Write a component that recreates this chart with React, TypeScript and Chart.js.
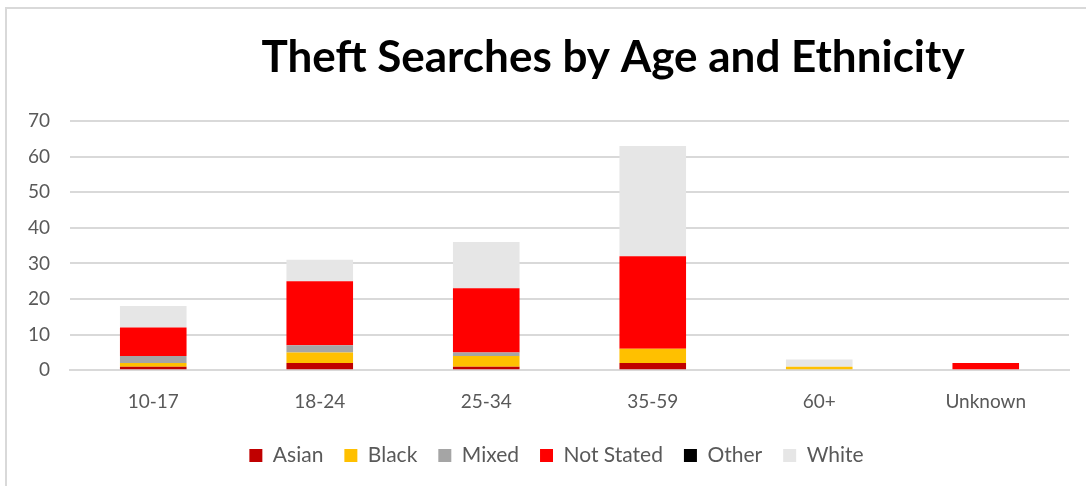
import React, { useEffect, useRef } from "react";
import { Chart, registerables } from "chart.js";

Chart.register(...registerables);

const TITLE = "Theft Searches by Age and Ethnicity";
const categories = ["10-17", "18-24", "25-34", "35-59", "60+", "Unknown"];
const asian = [1, 2, 1, 2, 0, 0];
const black = [1, 3, 3, 4, 1, 0];
const mixed = [2, 2, 1, 0, 0, 0];
const notStated = [8, 18, 18, 26, 0, 2];
const other = [0, 0, 0, 0, 0, 0];
const white = [6, 6, 13, 31, 2, 0];
const yTicks = [0, 10, 20, 30, 40, 50, 60, 70];

const FONT = "Lato, 'Noto Sans', sans-serif";

const titlePlugin = {
  id: "customTitle",
  afterLayout(chart: any) {
    if (chart.legend) {
      chart.legend.left += 18;
      chart.legend.right += 18;
    }
  },
  afterDraw(chart: any) {
    const ctx = chart.ctx;
    ctx.save();
    ctx.font = `bold 44px ${FONT}`;
    ctx.fillStyle = "#000000";
    ctx.textAlign = "center";
    ctx.textBaseline = "alphabetic";
    ctx.fillText(TITLE, 613, 72);
    ctx.restore();
  },
};

export default function App() {
  const ref = useRef<HTMLCanvasElement | null>(null);
  useEffect(() => {
    document.body.style.margin = "0";
    const mk = (label: string, data: number[], color: string) => ({
      label,
      data,
      backgroundColor: color,
      borderWidth: 0,
      barPercentage: 0.4,
      categoryPercentage: 1,
    });
    const chart = new Chart(ref.current as HTMLCanvasElement, {
      type: "bar",
      data: {
        labels: categories,
        datasets: [
          mk("Asian", asian, "#C00000"),
          mk("Black", black, "#FFC000"),
          mk("Mixed", mixed, "#A5A5A5"),
          mk("Not Stated", notStated, "#FF0000"),
          mk("Other", other, "#000000"),
          mk("White", white, "#E6E6E6"),
        ],
      },
      options: {
        animation: false,
        responsive: false,
        maintainAspectRatio: false,
        layout: { padding: { top: 121, left: 8, right: 17, bottom: 10 } },
        plugins: {
          title: { display: false },
          tooltip: { enabled: false },
          legend: {
            position: "bottom",
            labels: {
              boxWidth: 13,
              boxHeight: 13,
              padding: 21,
              color: "#595959",
              font: { size: 21, family: FONT },
            },
          },
        },
        scales: {
          x: {
            stacked: true,
            grid: { display: false },
            border: { color: "#d9d9d9", width: 2 },
            ticks: { color: "#595959", font: { size: 19, family: FONT }, padding: 12 },
            afterFit: (axis: any) => {
              axis.height -= 1;
            },
          },
          y: {
            stacked: true,
            min: 0,
            max: 70,
            afterBuildTicks: (axis: any) => {
              axis.ticks = yTicks.map((v) => ({ value: v }));
            },
            afterFit: (axis: any) => {
              axis.width = 62;
            },
            grid: { color: "#d9d9d9", lineWidth: 2, drawTicks: false },
            border: { display: false },
            ticks: { color: "#595959", font: { size: 19, family: FONT }, padding: 20 },
          },
        },
      },
      plugins: [titlePlugin],
    });
    return () => chart.destroy();
  }, []);
  return (
    <div style={{ position: "relative", width: 1086, height: 486, background: "#fff" }}>
      <div
        style={{
          position: "absolute",
          left: 5,
          top: 7,
          right: 0,
          bottom: 0,
          borderTop: "2px solid #d9d9d9",
          borderLeft: "2px solid #d9d9d9",
          pointerEvents: "none",
        }}
      />
      <canvas ref={ref} width={1086} height={486} style={{ display: "block" }} />
    </div>
  );
}
